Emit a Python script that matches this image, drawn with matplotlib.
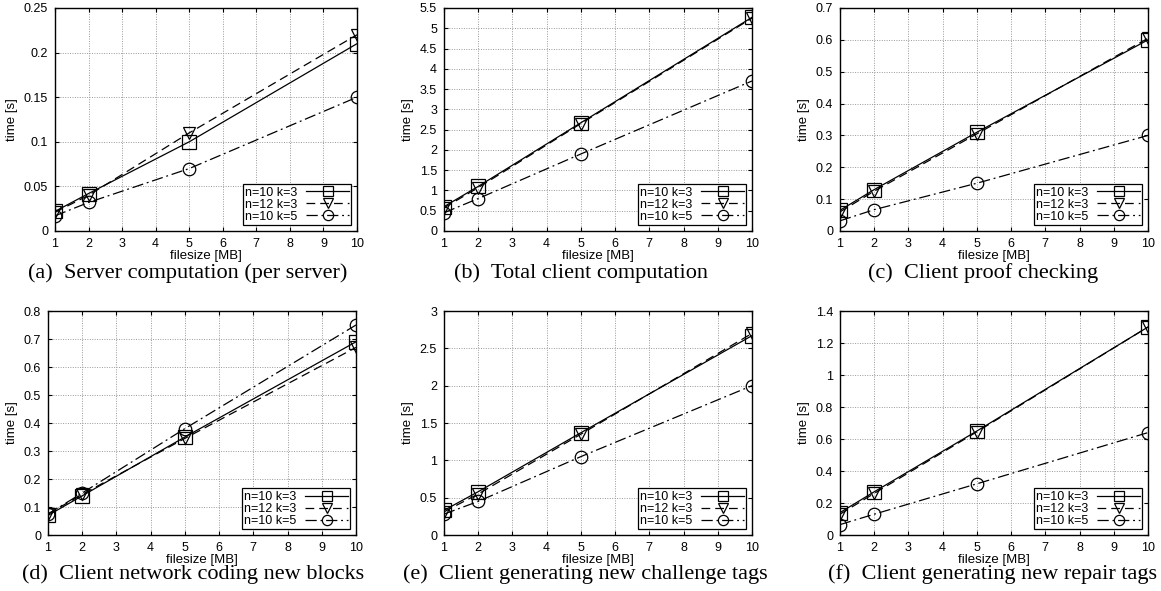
import matplotlib
matplotlib.use("Agg")
import matplotlib.pyplot as plt
import numpy as np

filesize = [1, 2, 5, 10]
series_labels = ["n=10 k=3", "n=12 k=3", "n=10 k=5"]

# time [s] per panel, one list per series (n10k3, n12k3, n10k5)
server_comp = [[0.022, 0.042, 0.100, 0.210],
               [0.021, 0.040, 0.110, 0.220],
               [0.017, 0.032, 0.070, 0.150]]
client_total = [[0.60, 1.10, 2.67, 5.27],
                [0.57, 1.07, 2.65, 5.25],
                [0.45, 0.80, 1.90, 3.70]]
proof_check = [[0.065, 0.130, 0.310, 0.600],
               [0.060, 0.125, 0.305, 0.605],
               [0.032, 0.067, 0.150, 0.300]]
net_coding = [[0.070, 0.140, 0.350, 0.690],
              [0.075, 0.145, 0.345, 0.670],
              [0.075, 0.150, 0.380, 0.750]]
challenge_tags = [[0.33, 0.58, 1.37, 2.67],
                  [0.31, 0.55, 1.35, 2.70],
                  [0.28, 0.45, 1.05, 2.00]]
repair_tags = [[0.140, 0.270, 0.650, 1.300],
               [0.130, 0.260, 0.645, 1.300],
               [0.065, 0.130, 0.320, 0.640]]

captions = ["(a)  Server computation (per server)",
            "(b)  Total client computation",
            "(c)  Client proof checking",
            "(d)  Client network coding new blocks",
            "(e)  Client generating new challenge tags",
            "(f)  Client generating new repair tags"]
panel_data = [server_comp, client_total, proof_check,
              net_coding, challenge_tags, repair_tags]
y_max = [0.25, 5.5, 0.7, 0.8, 3.0, 1.4]
y_step = [0.05, 0.5, 0.1, 0.1, 0.5, 0.2]

styles = [dict(ls="-", marker="s", ms=9.5),
          dict(ls=(0, (7, 4)), marker="v", ms=9),
          dict(ls=(0, (9, 3, 1.5, 3)), marker="o", ms=9)]

W, H = 1161, 591
# axes boxes in pixels: left, top, right, bottom
boxes = [(55, 8, 357, 231), (444, 8, 752, 231), (840, 8, 1148, 231),
         (48, 311, 356, 535), (444, 311, 752, 535), (840, 311, 1148, 535)]
cap_pos = [(188, 273), (581, 273), (983, 273),
           (193, 574), (585, 574), (993, 574)]

plt.rcParams["font.family"] = "Liberation Sans"
fig = plt.figure(figsize=(W / 100, H / 100), dpi=100)

for i in range(6):
    l, t, r, b = boxes[i]
    ax = fig.add_axes([l / W, 1 - b / H, (r - l) / W, (b - t) / H])
    for j in range(3):
        st = styles[j]
        ax.plot(filesize, panel_data[i][j], color="black", lw=0.9,
                linestyle=st["ls"], marker=st["marker"], ms=st["ms"],
                mfc="none", mec="black", mew=0.9, label=series_labels[j])
    ax.set_xlim(1, 10)
    ax.set_ylim(0, y_max[i])
    ax.set_xticks(range(1, 11))
    yt = np.round(np.arange(0, y_max[i] + y_step[i] / 2, y_step[i]), 3)
    ax.set_yticks(yt)
    ax.set_yticklabels(["%g" % v for v in yt])
    ax.grid(True, color="#999999", linestyle=(0, (1, 1.5)), lw=0.7)
    ax.tick_params(direction="in", length=3, width=0.8, labelsize=9,
                   top=True, right=True, pad=5, color="black")
    for s in ax.spines.values():
        s.set_linewidth(1.0)
    ax.set_xlabel("filesize [MB]", fontsize=9.5, labelpad=0)
    ax.set_ylabel("time [s]", fontsize=9.5, labelpad=4)
    leg = ax.legend(loc="lower right", fontsize=9, markerfirst=False,
                    frameon=True, fancybox=False, edgecolor="black",
                    framealpha=1, handlelength=3.4, borderpad=0.2,
                    labelspacing=0.0, handletextpad=0.7, markerscale=0.82,
                    borderaxespad=0.45)
    leg.get_frame().set_linewidth(0.9)
    cx, cy = cap_pos[i]
    fig.text(cx / W, 1 - cy / H, captions[i], ha="center", va="center",
             fontsize=16, family="Liberation Serif")

fig.savefig("out.png", dpi=100)
